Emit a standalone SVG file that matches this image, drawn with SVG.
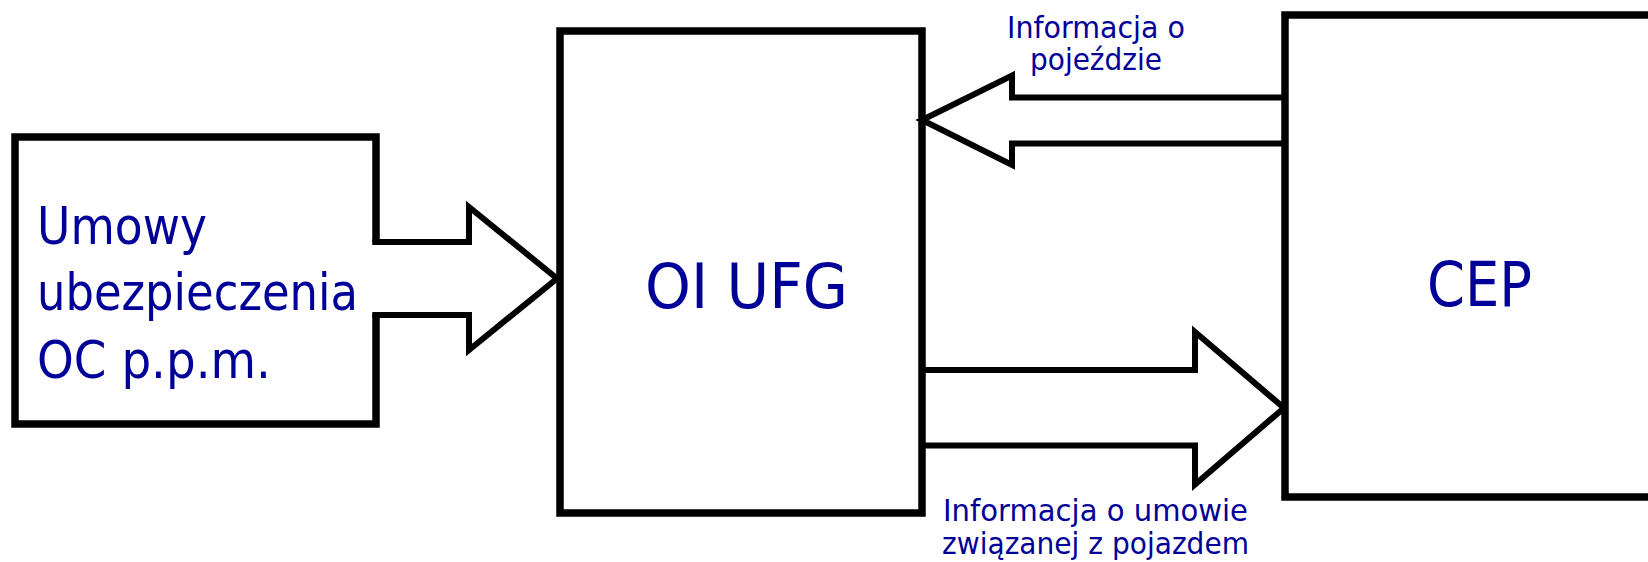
<svg xmlns="http://www.w3.org/2000/svg" width="1648" height="562" viewBox="0 0 1648 562">
<style>
.box{fill:none;stroke:#000;stroke-width:7.5;stroke-linejoin:miter}
.arr{fill:none;stroke:#000;stroke-width:6;stroke-linejoin:miter;stroke-miterlimit:10}
.big{font-family:"DejaVu Sans","Liberation Sans",sans-serif;fill:#000099;font-size:52px}
.ttl{font-family:"DejaVu Sans","Liberation Sans",sans-serif;fill:#000099;font-size:62px}
.lbl{font-family:"DejaVu Sans","Liberation Sans",sans-serif;fill:#000099;font-size:30px}
</style>
<rect width="1648" height="562" fill="#fff"/>
<g id="umowy">
<path class="box" d="M376,242 V137 H15 V424 H376 V315"/>
<text class="big" x="37" y="244" textLength="170" lengthAdjust="spacingAndGlyphs">Umowy</text>
<text class="big" x="37" y="310" textLength="321" lengthAdjust="spacingAndGlyphs">ubezpieczenia</text>
<text class="big" x="37" y="378" textLength="234" lengthAdjust="spacingAndGlyphs">OC p.p.m.</text>
</g>
<g id="oiufg">
<rect class="box" x="560" y="31" width="362" height="482"/>
<text class="ttl" x="645" y="308" textLength="203" lengthAdjust="spacingAndGlyphs">OI UFG</text>
</g>
<g id="cep">
<rect class="box" x="1285" y="15" width="400" height="482"/>
<text class="ttl" x="1427" y="306" textLength="105" lengthAdjust="spacingAndGlyphs">CEP</text>
</g>
<g id="connectors">
<path class="arr" d="M372.25,242 H469 V207 L557,278.5 L469,350 V315 H372.25" stroke-width="7.5"/>
<path class="arr" d="M1284,97.5 H1012 V75.5 L922,120 L1012,165 V143.5 H1284"/>
<path class="arr" d="M922,370 H1195 V332 L1284,408 L1195,484.5 V445.5 H922"/>
<text class="lbl" x="1007" y="38" textLength="178" lengthAdjust="spacingAndGlyphs">Informacja o</text>
<text class="lbl" x="1030" y="70" textLength="132" lengthAdjust="spacingAndGlyphs">pojeździe</text>
<text class="lbl" x="943" y="521" textLength="305" lengthAdjust="spacingAndGlyphs">Informacja o umowie</text>
<text class="lbl" x="942" y="554" textLength="307" lengthAdjust="spacingAndGlyphs">związanej z pojazdem</text>
</g>
</svg>
